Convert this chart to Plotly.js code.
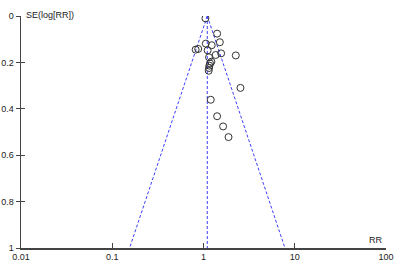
<!DOCTYPE html>
<html>
<head>
<meta charset="utf-8">
<script src="https://cdn.plot.ly/plotly-3.0.1.min.js"></script>
<style>html,body{margin:0;padding:0;background:#fff;}#chart{width:400px;height:266px;}</style>
</head>
<body>
<div id="chart"></div>
<script>
// Study estimates (risk ratio) and their standard errors of log(RR)
const studyRR = [1.05, 1.41, 1.51, 1.06, 1.23, 0.82, 0.875, 1.11, 1.56, 1.36, 2.26, 1.15, 1.22, 1.18, 1.16, 1.15, 1.14, 2.54, 1.20, 1.41, 1.64, 1.88];
const studySE = [0.01, 0.076, 0.113, 0.119, 0.126, 0.145, 0.142, 0.148, 0.161, 0.168, 0.170, 0.178, 0.197, 0.204, 0.214, 0.224, 0.236, 0.310, 0.361, 0.432, 0.476, 0.522];
const pooledRR = 1.1;
const seRange = [0, 1];
const xTickVals = [0.01, 0.1, 1, 10, 100];
const xTickText = ['0.01', '0.1', '1', '10', '100'];
const yTickVals = [0, 0.2, 0.4, 0.6, 0.8, 1];
const yTickText = ['0', '0.2', '0.4', '0.6', '0.8', '1'];

const z = 1.96;
const funnelLeftX = seRange.map(s => pooledRR * Math.exp(-z * s));
const funnelRightX = seRange.map(s => pooledRR * Math.exp(z * s));
const dashStyle = {color: '#3d3dff', width: 1, dash: '3px,2px'};

const traces = [
  {x: funnelLeftX, y: seRange, mode: 'lines', line: dashStyle, hoverinfo: 'skip', showlegend: false},
  {x: funnelRightX, y: seRange, mode: 'lines', line: dashStyle, hoverinfo: 'skip', showlegend: false},
  {x: [pooledRR, pooledRR], y: seRange, mode: 'lines', line: dashStyle, hoverinfo: 'skip', showlegend: false},
  {x: studyRR, y: studySE, mode: 'markers', type: 'scatter', showlegend: false,
   marker: {symbol: 'circle-open', size: 7, color: '#333333', line: {width: 1, color: '#333333'}}},
  {x: [pooledRR], y: [0], yaxis: 'y2', mode: 'markers', marker: {opacity: 0}, hoverinfo: 'skip', showlegend: false}
];

const font = {family: 'Liberation Sans, Arial, sans-serif', size: 9, color: '#222'};
const layout = {
  width: 400, height: 266,
  margin: {l: 21, r: 14, t: 16, b: 18},
  paper_bgcolor: '#fff', plot_bgcolor: '#fff',
  font: font,
  showlegend: false,
  xaxis: {
    type: 'log', range: [-2, 2], showgrid: false, zeroline: false,
    showline: true, linecolor: '#444', linewidth: 1.5,
    tickvals: xTickVals, ticktext: xTickText,
    ticks: 'inside', ticklen: 5, tickcolor: '#444', tickwidth: 1,
    tickfont: font
  },
  yaxis: {
    range: [1, 0], showgrid: false, zeroline: false,
    showline: true, linecolor: '#444', linewidth: 1.5,
    tickvals: yTickVals, ticktext: yTickText,
    ticks: 'outside', ticklen: 4, tickcolor: '#444', tickwidth: 1,
    tickfont: font
  },
  yaxis2: {
    overlaying: 'y', side: 'left', range: [1, 0], showgrid: false, zeroline: false,
    showline: false, showticklabels: false,
    tickvals: yTickVals, ticks: 'inside', ticklen: 4, tickcolor: '#444', tickwidth: 1
  },
  annotations: [
    {text: 'SE(log[RR])', xref: 'paper', yref: 'paper', x: 0, y: 1, xanchor: 'left', yanchor: 'bottom',
     xshift: 3, yshift: -6, showarrow: false, font: font},
    {text: 'RR', xref: 'paper', yref: 'paper', x: 1, y: 0, xanchor: 'right', yanchor: 'bottom',
     xshift: -1, yshift: 1, showarrow: false, font: font}
  ]
};

Plotly.newPlot('chart', traces, layout, {displayModeBar: false, staticPlot: true});
</script>
</body>
</html>
